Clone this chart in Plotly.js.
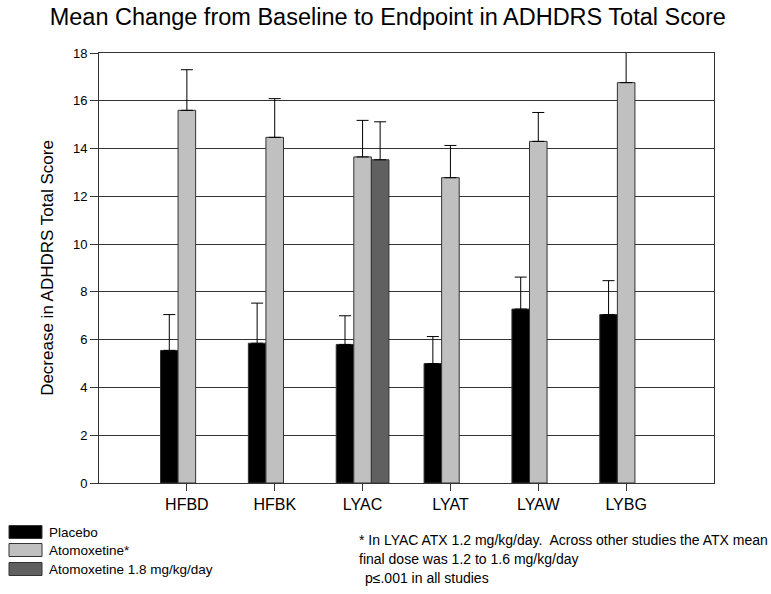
<!DOCTYPE html>
<html>
<head>
<meta charset="utf-8">
<script src="https://cdn.plot.ly/plotly-3.0.1.min.js"></script>
<style>html,body{margin:0;padding:0;background:#fff;}#chart{width:771px;height:594px;}</style>
</head>
<body>
<div id="chart"></div>
<script>
// ---- data ----
const studies = ["HFBD", "HFBK", "LYAC", "LYAT", "LYAW", "LYBG"];
const placebo = [5.55, 5.85, 5.8, 5.0, 7.28, 7.05];
const placeboErr = [1.5, 1.68, 1.2, 1.13, 1.34, 1.42];
const atomoxetine = [15.6, 14.47, 13.65, 12.78, 14.3, 16.76];
const atomoxetineErr = [1.7, 1.62, 1.53, 1.35, 1.21, 1.8];
const atx18 = [null, null, 13.53, null, null, null];
const atx18Err = [null, null, 1.59, null, null, null];
const seriesNames = ["Placebo", "Atomoxetine*", "Atomoxetine 1.8 mg/kg/day"];
const yTicks = [0, 2, 4, 6, 8, 10, 12, 14, 16, 18];
const titleText = "Mean Change from Baseline to Endpoint in ADHDRS Total Score";
const yTitleText = "Decrease in ADHDRS Total Score";
const footnotes = ["* In LYAC ATX 1.2 mg/kg/day.  Across other studies the ATX mean",
                   "final dose was 1.2 to 1.6 mg/kg/day",
                   "p\u2264.001 in all studies"];

// ---- styling ----
const FONT = "Arial, 'Liberation Sans', sans-serif";
const fills = ["#000000", "#c0c0c0", "#606060"];
const W = 771, H = 594;
const M = {l: 99, r: 57, t: 53, b: 111};
const pw = W - M.l - M.r, ph = H - M.t - M.b;
const px = x => (x - M.l) / pw;
const py = y => (H - M.b - y) / ph;

function zeros(a) { return a.map(v => v == null ? null : 0); }
function barTrace(y, err, i) {
  return {
    type: "bar", x: studies, y: y, name: seriesNames[i],
    marker: {color: fills[i], line: {color: "#333333", width: 1}},
    error_y: {type: "data", symmetric: false, array: err, arrayminus: zeros(err),
              color: "#000000", thickness: 1, width: 6},
    showlegend: false, cliponaxis: true
  };
}
const data = [
  barTrace(placebo, placeboErr, 0),
  barTrace(atomoxetine, atomoxetineErr, 1),
  barTrace(atx18, atx18Err, 2)
];

// legend swatches drawn as shapes + annotations
const legendRows = [532, 550, 569];
const shapes = [], annotations = [];
seriesNames.forEach((n, i) => {
  const yc = legendRows[i];
  shapes.push({type: "rect", xref: "paper", yref: "paper",
    x0: px(9), x1: px(42), y0: py(yc - 6.5), y1: py(yc + 6.5),
    fillcolor: fills[i], line: {color: "#333333", width: 1}});
  annotations.push({xref: "paper", yref: "paper", x: px(47), y: py(yc),
    xanchor: "left", yanchor: "middle", text: n, showarrow: false,
    font: {family: FONT, size: 13.5, color: "#000"}});
});
const footY = [540, 559, 578];
const footX = [357, 357, 363];
footnotes.forEach((t, i) => {
  annotations.push({xref: "paper", yref: "paper", x: px(footX[i]), y: py(footY[i]),
    xanchor: "left", yanchor: "middle", text: t, showarrow: false,
    font: {family: FONT, size: 14, color: "#000"}});
});

const layout = {
  width: W, height: H,
  margin: M,
  paper_bgcolor: "#fff", plot_bgcolor: "#fff",
  font: {family: FONT, color: "#000"},
  title: {text: titleText, x: 0.503, xanchor: "center", y: 1 - 17 / H, yanchor: "middle",
          font: {family: FONT, size: 23.5, color: "#000"}},
  barmode: "group", bargap: 0.4, bargroupgap: 0,
  xaxis: {
    type: "category", range: [-1, 6],
    showline: true, linecolor: "#333", linewidth: 1, mirror: true,
    ticks: "outside", ticklen: 7, tickcolor: "#333", tickwidth: 1,
    showgrid: false, zeroline: false,
    tickfont: {family: FONT, size: 16, color: "#000"}
  },
  yaxis: {
    range: [0, 18], tickvals: yTicks, ticktext: yTicks.map(String),
    showline: true, linecolor: "#333", linewidth: 1, mirror: true,
    ticks: "outside", ticklen: 8, tickcolor: "#333", tickwidth: 1,
    showgrid: true, gridcolor: "#333", gridwidth: 1, zeroline: false,
    tickfont: {family: FONT, size: 13, color: "#000"},
    title: {text: yTitleText, standoff: 14, font: {family: FONT, size: 17, color: "#000"}}
  },
  shapes: shapes,
  annotations: annotations
};
Plotly.newPlot("chart", data, layout, {staticPlot: true, displayModeBar: false});
</script>
</body>
</html>
